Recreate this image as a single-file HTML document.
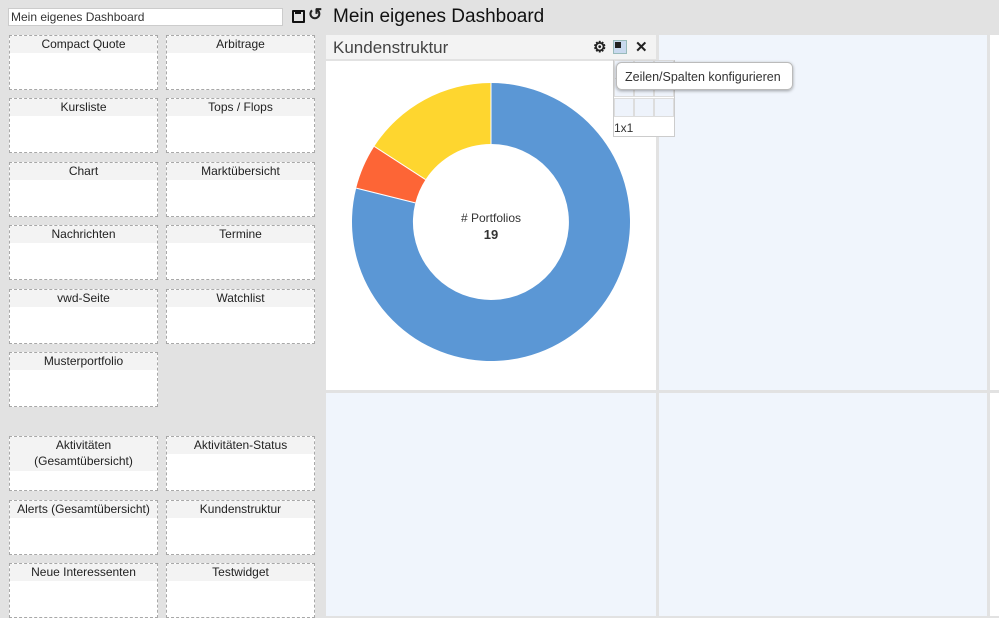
<!DOCTYPE html>
<html><head><meta charset="utf-8"><style>
*{box-sizing:border-box;margin:0;padding:0}
body{width:999px;height:616px;overflow:hidden;background:#e2e2e2;font-family:"Liberation Sans",sans-serif;position:relative;color:#222}
.a{position:absolute}
.box{position:absolute;width:149px;height:55px;border:1px dashed #a8a8a8;background:#fff}
.box div{background:#f3f3f3;height:17px;text-align:center;font-size:12px;line-height:16px;color:#222}
.p{position:absolute;background:#f0f5fc}
</style></head><body>
<div class="a" style="left:8px;top:8px;width:275px;height:18px;background:#fff;border:1px solid #ccc;font-size:12px;line-height:16px;padding-left:2px;color:#333">Mein eigenes Dashboard</div>
<div class="a" style="left:292px;top:10px;width:13px;height:13px;border:2px solid #111;border-radius:1px"></div>
<div class="a" style="left:295px;top:10px;width:6px;height:4px;border:2px solid #111;border-top:none"></div>
<div class="a" style="left:308px;top:5px;font-size:17px;font-weight:bold">&#8634;</div>
<div class="a" style="left:333px;top:6px;font-size:19px;color:#111">Mein eigenes Dashboard</div>

<div class="box" style="left:9px;top:35px"><div>Compact Quote</div></div>
<div class="box" style="left:166px;top:35px"><div>Arbitrage</div></div>
<div class="box" style="left:9px;top:98px"><div>Kursliste</div></div>
<div class="box" style="left:166px;top:98px"><div>Tops / Flops</div></div>
<div class="box" style="left:9px;top:162px"><div>Chart</div></div>
<div class="box" style="left:166px;top:162px"><div>Marktübersicht</div></div>
<div class="box" style="left:9px;top:225px"><div>Nachrichten</div></div>
<div class="box" style="left:166px;top:225px"><div>Termine</div></div>
<div class="box" style="left:9px;top:289px"><div>vwd-Seite</div></div>
<div class="box" style="left:166px;top:289px"><div>Watchlist</div></div>
<div class="box" style="left:9px;top:352px"><div>Musterportfolio</div></div>
<div class="box" style="left:9px;top:436px"><div style="height:34px">Aktivitäten<br>(Gesamtübersicht)</div></div>
<div class="box" style="left:166px;top:436px"><div>Aktivitäten-Status</div></div>
<div class="box" style="left:9px;top:500px"><div>Alerts (Gesamtübersicht)</div></div>
<div class="box" style="left:166px;top:500px"><div>Kundenstruktur</div></div>
<div class="box" style="left:9px;top:563px"><div>Neue Interessenten</div></div>
<div class="box" style="left:166px;top:563px"><div>Testwidget</div></div>

<div class="a" style="left:326px;top:35px;width:330px;height:355px;background:#fff"></div>
<div class="a" style="left:326px;top:35px;width:330px;height:26px;background:#f3f3f3;border-bottom:2px solid #e2e2e2;font-size:17px;line-height:26px;padding-left:7px;color:#444">Kundenstruktur</div>
<div class="a" style="left:593px;top:38px;font-size:15px;font-weight:bold">&#9881;</div>
<div class="a" style="left:613px;top:40px;width:14px;height:14px;background:#c9d9ee;border:1px solid #9bb"></div>
<div class="a" style="left:615px;top:42px;width:6px;height:6px;background:#222"></div>
<div class="a" style="left:635px;top:38px;font-size:15px;font-weight:bold">&#10005;</div>
<div class="p" style="left:659px;top:35px;width:328px;height:355px"></div>
<div class="a" style="left:990px;top:35px;width:9px;height:355px;background:#fff"></div>
<div class="p" style="left:326px;top:393px;width:330px;height:223px"></div>
<div class="p" style="left:659px;top:393px;width:328px;height:223px"></div>
<div class="a" style="left:990px;top:393px;width:9px;height:223px;background:#fff"></div>

<svg class="a" style="left:0;top:0" width="999" height="616">
<defs><filter id="sh" x="-10%" y="-30%" width="120%" height="160%"><feDropShadow dx="0" dy="1" stdDeviation="1.5" flood-opacity="0.35"/></filter></defs>
<g transform="translate(491,222)">
<path d="M0,-139 A139,139 0 1 1 -134.8,-33.9 L-75.7,-19.1 A78,78 0 1 0 0,-78 Z" fill="#5b97d5"/>
<path d="M-134.8,-33.9 A139,139 0 0 1 -116.7,-75.6 L-65.5,-42.4 A78,78 0 0 0 -75.7,-19.1 Z" fill="#fd6536"/>
<path d="M-116.7,-75.6 A139,139 0 0 1 0,-139 L0,-78 A78,78 0 0 0 -65.5,-42.4 Z" fill="#fed62f"/>
<line x1="0" y1="-139" x2="0" y2="-78" stroke="#fff" stroke-width="1"/>
<line x1="-134.8" y1="-33.9" x2="-75.7" y2="-19.1" stroke="#fff" stroke-width="1"/>
<line x1="-116.7" y1="-75.6" x2="-65.5" y2="-42.4" stroke="#fff" stroke-width="1"/>
<text x="0" y="0" text-anchor="middle" font-size="12" font-family="Liberation Sans" fill="#333"># Portfolios</text>
<text x="0" y="17" text-anchor="middle" font-size="13" font-weight="bold" font-family="Liberation Sans" fill="#333">19</text>
</g>
<g stroke="#ddd" fill="#eef3fb">
<rect x="613.5" y="60.5" width="61" height="76" fill="#fff" stroke="#ccc"/>
<rect x="614.5" y="60.5" width="19" height="18"/><rect x="634.5" y="60.5" width="19" height="18"/><rect x="654.5" y="60.5" width="19" height="18"/>
<rect x="614.5" y="78.5" width="19" height="18"/><rect x="634.5" y="78.5" width="19" height="18"/><rect x="654.5" y="78.5" width="19" height="18"/>
<rect x="614.5" y="98.5" width="19" height="18"/><rect x="634.5" y="98.5" width="19" height="18"/><rect x="654.5" y="98.5" width="19" height="18"/>
</g>
<text x="614" y="132" font-size="12" font-family="Liberation Sans" fill="#333">1x1</text>
<rect x="616.5" y="62.5" width="176" height="27" rx="5" fill="#fff" stroke="#bbb" filter="url(#sh)"/>
<text x="625" y="81" font-size="12.5" font-family="Liberation Sans" fill="#333">Zeilen/Spalten konfigurieren</text>
</svg>
</body></html>
